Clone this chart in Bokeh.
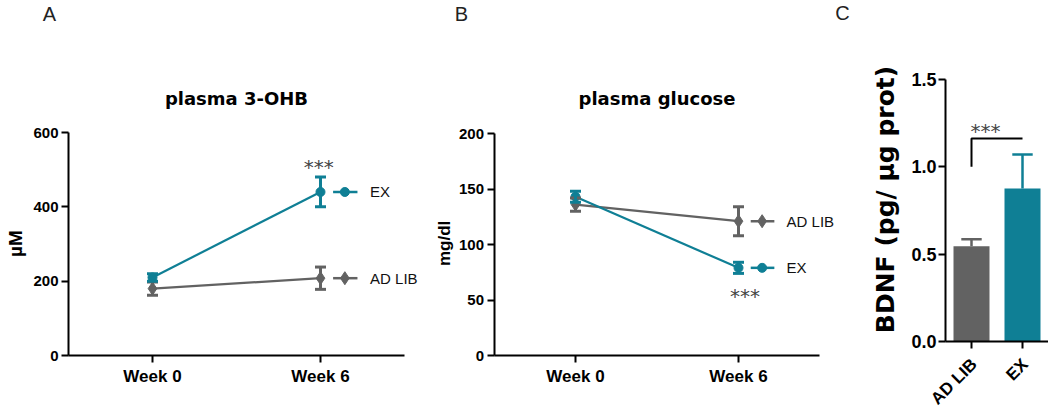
import math
from bokeh.plotting import figure
from bokeh.layouts import row
from bokeh.models import (Label, FixedTicker, Whisker, ColumnDataSource, TeeHead,
                          Range1d, NumeralTickFormatter)
from bokeh.embed import file_html
from bokeh.resources import INLINE

# ---------------- data ----------------
weeks = ["Week 0", "Week 6"]
ohb_adlib = [180, 208]
ohb_adlib_err = [18, 30]
ohb_ex = [210, 440]
ohb_ex_err = [10, 40]

glu_adlib = [136, 121]
glu_adlib_err = [6, 13]
glu_ex = [143, 79]
glu_ex_err = [5, 5]

bdnf_groups = ["AD LIB", "EX"]
bdnf_mean = [0.545, 0.876]
bdnf_err = [0.04, 0.195]

ohb_ticks = [0, 200, 400, 600]
glu_ticks = [0, 50, 100, 150, 200]
bdnf_ticks = [0, 0.5, 1.0, 1.5]

GRAY = "#626262"
TEAL = "#0f7f95"
FONT = "Liberation Sans"
WIDE = "DejaVu Sans"
H = 408


def style_axes(p, label_size):
    for ax in (p.xaxis[0], p.yaxis[0]):
        ax.axis_line_width = 2
        ax.axis_line_color = "black"
        ax.major_tick_line_width = 2
        ax.major_tick_line_color = "black"
        ax.major_tick_out = 7
        ax.major_tick_in = 0
        ax.minor_tick_line_color = None
        ax.major_label_text_font = FONT
        ax.major_label_text_font_style = "bold"
        ax.major_label_text_font_size = label_size
        ax.major_label_text_color = "black"
    p.xgrid.visible = False
    p.ygrid.visible = False
    p.outline_line_color = None
    p.background_fill_color = "white"
    p.border_fill_color = "white"


def make_fig(width, xr, yr):
    return figure(width=width, height=H, x_range=Range1d(*xr), y_range=Range1d(*yr),
                  min_border_left=0, min_border_right=0, min_border_top=0,
                  min_border_bottom=0, output_backend="svg", toolbar_location=None)


def add_errbar(p, xs, vals, errs, color, cap):
    src = ColumnDataSource(dict(x=xs,
                                upper=[v + e for v, e in zip(vals, errs)],
                                lower=[v - e for v, e in zip(vals, errs)]))
    w = Whisker(base="x", upper="upper", lower="lower", source=src,
                dimension="height", line_color=color, line_width=3,
                upper_head=TeeHead(size=cap, line_color=color, line_width=3),
                lower_head=TeeHead(size=cap, line_color=color, line_width=3),
                level="glyph")
    p.add_layout(w)


def label(p, x, y, text, size, bold=False, angle=0.0, align="center",
          baseline="middle", color="black", font=FONT):
    p.add_layout(Label(x=x, y=y, text=text, text_font=font,
                       text_font_style="bold" if bold else "normal",
                       text_font_size=size, text_color=color, text_align=align,
                       text_baseline=baseline, angle=angle))


def line_panel(width, xr, yr, ymax, ticks, adlib, adlib_err, ex, ex_err):
    xs = list(range(len(weeks)))
    p = make_fig(width, xr, yr)
    style_axes(p, "15px")
    xa, ya = p.xaxis[0], p.yaxis[0]
    xa.fixed_location = 0
    xa.bounds = (-0.5, 1.5)
    xa.ticker = FixedTicker(ticks=xs)
    xa.major_label_overrides = {i: w for i, w in enumerate(weeks)}
    xa.major_label_text_font_size = "17px"
    xa.major_label_standoff = 4
    ya.fixed_location = -0.5
    ya.bounds = (0, ymax)
    ya.ticker = FixedTicker(ticks=ticks)
    ya.major_label_standoff = 3

    for vals, errs, color, marker, msize, name in (
            (adlib, adlib_err, GRAY, "diamond", 13, "AD LIB"),
            (ex, ex_err, TEAL, "circle", 9, "EX")):
        p.line(xs, vals, line_color=color, line_width=2.2)
        add_errbar(p, xs, vals, errs, color, 11)
        p.scatter(xs, vals, marker=marker, size=msize, color=color)
        # legend item next to last point
        xl = xs[-1]
        yl = vals[-1]
        p.line([xl + 0.075, xl + 0.22], [yl, yl], line_color=color, line_width=2.5)
        p.scatter([xl + 0.145], [yl], marker=marker, size=msize, color=color)
        label(p, xl + 0.295, yl, name, "15px", align="left", color="#111111")
    return p, xs


# ---------------- panel A ----------------
pa, xs = line_panel(430, (-0.9048, 1.6548), (-142.6, 955.2), 600, ohb_ticks,
                    ohb_adlib, ohb_adlib_err, ohb_ex, ohb_ex_err)
label(pa, xs[-1] - 0.01, ohb_ex[-1] + ohb_ex_err[-1] + 26, "***", "20px",
      baseline="alphabetic", color="#444444", font=WIDE)
label(pa, 0.5, 691, "plasma 3-OHB", "18px", bold=True, font=WIDE)
label(pa, -0.815, 301, "µM", "19px", bold=True, angle=math.pi / 2)
label(pa, -0.613, 920, "A", "20px", color="#222222")

# ---------------- panel B ----------------
pb, xs = line_panel(405, (-0.8896, 1.5951), (-47.7, 319.8), 200, glu_ticks,
                    glu_adlib, glu_adlib_err, glu_ex, glu_ex_err)
label(pb, xs[-1] + 0.04, glu_ex[-1] - glu_ex_err[-1] - 20, "***", "20px",
      baseline="alphabetic", color="#444444", font=WIDE)
label(pb, 0.5, 231.5, "plasma glucose", "18px", bold=True, font=WIDE)
label(pb, -0.804, 101, "mg/dl", "17px", bold=True, angle=math.pi / 2)
label(pb, -0.70, 308, "B", "20px", color="#222222")

# ---------------- panel C ----------------
xc = [1, 2]
pc = make_fig(213, (-1.6667, 2.5098), (-0.384, 1.9523))
style_axes(pc, "18px")
xa, ya = pc.xaxis[0], pc.yaxis[0]
ya.fixed_location = 0.49
ya.bounds = (0, 1.5)
ya.ticker = FixedTicker(ticks=bdnf_ticks)
ya.formatter = NumeralTickFormatter(format="0.0")
ya.major_label_standoff = 2
xa.fixed_location = 0
xa.bounds = (0.49, 2.6)
xa.ticker = FixedTicker(ticks=xc)
xa.major_label_overrides = {1: "", 2: ""}

colors = [GRAY, TEAL]
tops = [m + e for m, e in zip(bdnf_mean, bdnf_err)]
pc.segment(x0=xc, y0=bdnf_mean, x1=xc, y1=tops, line_color=colors, line_width=2.5)
pc.segment(x0=[x - 0.2 for x in xc], y0=tops, x1=[x + 0.2 for x in xc], y1=tops,
           line_color=colors, line_width=2.5)
pc.vbar(x=xc, top=bdnf_mean, width=0.706, fill_color=colors, line_color=None)

# significance bracket
pc.line([xc[0], xc[0], xc[1]], [1.0, 1.162, 1.162], line_color="black", line_width=2)
label(pc, 1.275, 1.203, "***", "20px", baseline="alphabetic", color="#444444",
      font=WIDE)

for x, g in zip(xc, bdnf_groups):
    label(pc, x + 0.05, -0.115, g, "17px", bold=True, align="right",
          angle=math.pi / 4)

label(pc, -0.686, 0.813, "BDNF (pg/ µg prot)", "25px", bold=True,
      angle=math.pi / 2, font=WIDE)
label(pc, -1.53, 1.878, "C", "20px", color="#222222")

layout = row(pa, pb, pc)
open("out.html", "w").write(file_html(layout, INLINE))
